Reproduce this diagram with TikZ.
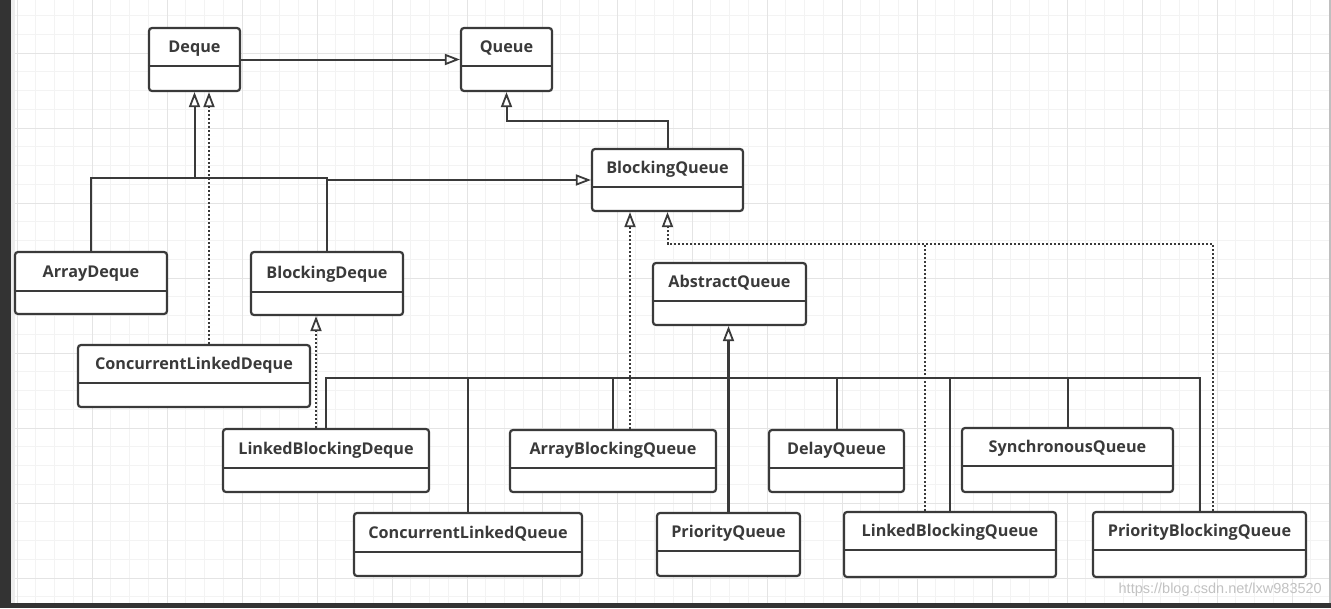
\documentclass[tikz,border=0pt]{standalone}
\usepackage{fontspec}
\setmainfont{Open Sans}
\newfontfamily\wmfont{Liberation Sans}
\usetikzlibrary{arrows.meta,calc}
\definecolor{ink}{HTML}{3A3A3A}
\definecolor{gridmin}{HTML}{F3F3F3}
\definecolor{gridmaj}{HTML}{E4E4E4}
\definecolor{framec}{HTML}{333333}
\definecolor{wm}{HTML}{C2C2C2}
\pgfdeclarelayer{bg}
\pgfdeclarelayer{edges}
\pgfsetlayers{bg,edges,main}
\tikzset{
 cls/.style={draw=ink, line width=2.2pt, rounded corners=3pt, fill=white, inner sep=0pt},
 divl/.style={draw=ink, line width=2pt},
 clstext/.style={font=\fontsize{16.2}{18}\selectfont\bfseries, text=ink, inner sep=0pt, anchor=base},
 conn/.style={draw=ink, line width=2pt},
 inh/.style={conn, -{Triangle[open, length=15pt, width=11pt, line width=1.8pt]}},
 realline/.style={conn, dash pattern=on 2pt off 2pt},
 real/.style={inh, dash pattern=on 2pt off 2pt},
}
\newcommand\umlbox[7]{%
 \pgfmathsetmacro\bw{#4-#2}\pgfmathsetmacro\bh{#5-#3}%
 \pgfmathsetmacro\bcx{(#2+#4)/2}\pgfmathsetmacro\bcy{(#3+#5)/2}%
 \pgfmathsetmacro\tby{#6-13.5}%
 \node[cls, minimum width=\bw pt, minimum height=\bh pt] (#1) at (\bcx,\bcy) {};
 \draw[divl] (#1.west |- 0,#6) -- (#1.east |- 0,#6);
 \node[clstext] (#1-t) at (\bcx,\tby) {#7};
}
\begin{document}
\begin{tikzpicture}[x=1pt,y=-1pt]
\useasboundingbox (0,0) rectangle (1331,608);
\begin{pgfonlayer}{bg}
 \fill[white] (0,0) rectangle (1331,608);
 \foreach \k in {0,...,70} { \draw[gridmin, line width=0.8pt] ({17+18.75*\k},0) -- ({17+18.75*\k},603); }
 \foreach \k in {0,...,33} { \draw[gridmin, line width=0.8pt] (11,{-3.25+18.75*\k}) -- (1331,{-3.25+18.75*\k}); }
 \foreach \k in {0,...,17} { \draw[gridmaj, line width=1pt] ({17+75*\k},0) -- ({17+75*\k},603); }
 \foreach \k in {1,...,8} { \draw[gridmaj, line width=1pt] (11,{-22+75*\k}) -- (1331,{-22+75*\k}); }
 \fill[black!7] (11,0) rectangle (15,603);
 \fill[framec] (0,0) rectangle (11,608);
 \fill[framec] (0,603) rectangle (1331,608);
 \fill[black!25] (1328.5,0) rectangle (1331,603);
\end{pgfonlayer}

\umlbox{Deque}{149}{28}{240}{91}{66}{Deque}
\umlbox{Queue}{461}{28}{552}{91}{66}{Queue}
\umlbox{BQ}{592}{149}{743}{211}{187}{BlockingQueue}
\umlbox{AD}{15}{252}{167}{314}{291}{ArrayDeque}
\umlbox{BDq}{251}{252}{403}{315}{292}{BlockingDeque}
\umlbox{CLD}{78}{345}{310}{407}{383}{ConcurrentLinkedDeque}
\umlbox{AQ}{653}{263}{806}{325}{301}{AbstractQueue}
\umlbox{LBD}{223}{429}{429}{492}{468}{LinkedBlockingDeque}
\umlbox{ABQ}{510}{430}{716}{492}{468}{ArrayBlockingQueue}
\umlbox{DQ}{769}{430}{904}{492}{468}{DelayQueue}
\umlbox{SQ}{962}{428}{1173}{492}{466}{SynchronousQueue}
\umlbox{CLQ}{354}{513}{582}{576}{552}{ConcurrentLinkedQueue}
\umlbox{PQ}{657}{513}{800}{576}{551}{PriorityQueue}
\umlbox{LBQ}{844}{512}{1056}{577}{550}{LinkedBlockingQueue}
\umlbox{PBQ}{1093}{512}{1306}{577}{550}{PriorityBlockingQueue}

\node[font=\wmfont\fontsize{14.5}{16}\selectfont, text=wm, anchor=east, inner sep=0pt] (wmk) at (1322,590) {https://blog.csdn.net/lxw983520};

\begin{pgfonlayer}{edges}
 \coordinate (dbar) at (194.5,178);
 \coordinate (qj) at (506.5,121);
 \coordinate (abar) at (729.5,378);
 \coordinate (bqj) at (667.5,244);
 \draw[inh] (Deque.east) -- (Queue.west);
 \draw[inh] (BQ.north) |- (qj) -- (Queue.south);
 \draw[inh] (AD.north) |- (dbar) -- (Deque.south);
 \draw[conn] (BDq.north) |- (dbar);
 \draw[inh] (BDq.north) |- (BQ.west);
 \draw[real] (CLD.north -| 209,0) -- (Deque.south -| 209,0);
 \draw[real] (LBD.north -| 316,0) -- (BDq.south -| 316,0);
 \foreach \X in {LBD,CLQ,ABQ,DQ,LBQ,SQ,PBQ} { \draw[conn] (\X.north) |- (abar); }
 \draw[inh, line width=2.6pt] (PQ.north) -- (AQ.south -| PQ.north);
 \draw[real] (ABQ.north -| 630,0) -- (BQ.south -| 630,0);
 \draw[real] (LBQ.north -| 925,0) |- (bqj) -- (BQ.south);
 \draw[realline] (PBQ.north -| 1213,0) |- (bqj);
\end{pgfonlayer}
\end{tikzpicture}
\end{document}
